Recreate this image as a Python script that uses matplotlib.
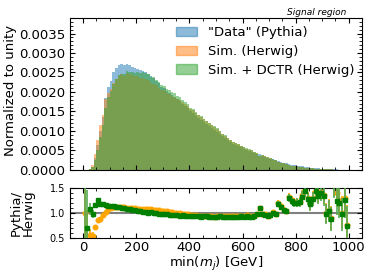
import numpy as np
import matplotlib
matplotlib.use('Agg')
import matplotlib.pyplot as plt
from matplotlib.ticker import AutoMinorLocator, FormatStrFormatter, MultipleLocator
from matplotlib.patches import Patch

# 100 bins of 10 GeV between 0 and 1000
bin_edges = np.linspace(0, 1000, 101)
bin_centers = 0.5 * (bin_edges[1:] + bin_edges[:-1])

# "Data" (Pythia), normalized per GeV
data_hist = [
    0.000002, 0.000003, 0.00002, 0.00007, 0.00030, 0.00065, 0.00100, 0.00135, 0.00185, 0.00212,
    0.00228, 0.00250, 0.00262, 0.00270, 0.00272, 0.00268, 0.00273, 0.00270, 0.00265, 0.00262,
    0.00260, 0.00256, 0.00255, 0.00250, 0.00246, 0.00240, 0.00235, 0.00228, 0.00222, 0.00214,
    0.00210, 0.00203, 0.00198, 0.00192, 0.00188, 0.00182, 0.00177, 0.00170, 0.00164, 0.00158,
    0.00150, 0.00146, 0.00139, 0.00133, 0.00127, 0.00122, 0.00117, 0.00112, 0.00107, 0.00102,
    0.00098, 0.00093, 0.00086, 0.00081, 0.00076, 0.00071, 0.00067, 0.00064, 0.00061, 0.00058,
    0.00055, 0.00052, 0.00049, 0.00047, 0.00044, 0.00042, 0.00040, 0.00037, 0.00034, 0.00031,
    0.00029, 0.00027, 0.00025, 0.00023, 0.00021, 0.00019, 0.00017, 0.00016, 0.00014, 0.00013,
    0.00011, 0.00010, 0.00009, 0.00008, 0.00007, 0.00006, 0.00005, 0.000045, 0.00004, 0.000034,
    0.00003, 0.000025, 0.00002, 0.000017, 0.000014, 0.000012, 0.00001, 0.000008, 0.000006, 0.000005,
]

# Pythia / Herwig
ratio_sim = [
    1.00, 0.30, 0.56, 0.53, 0.72, 0.86, 0.87, 0.96, 1.02, 1.08,
    1.10, 1.12, 1.12, 1.12, 1.11, 1.11, 1.10, 1.10, 1.09, 1.09,
    1.08, 1.08, 1.08, 1.07, 1.07, 1.08, 1.06, 1.05, 1.05, 1.04,
    1.03, 1.03, 1.02, 1.01, 1.00, 1.00, 0.99, 0.98, 0.97, 0.97,
    0.96, 0.95, 0.95, 0.94, 0.94, 0.93, 0.94, 0.93, 0.93, 0.92,
    0.93, 0.94, 0.93, 0.93, 0.94, 0.93, 0.94, 0.94, 0.93, 0.94,
    0.94, 0.95, 0.94, 0.94, 0.94, 0.97, 1.10, 0.98, 0.97, 0.94,
    0.96, 1.01, 0.98, 1.19, 1.13, 1.06, 1.04, 1.32, 1.26, 1.22,
    1.21, 1.22, 1.35, 1.47, 1.30, 1.19, 1.29, 1.46, 1.36, 1.42,
    1.36, 1.00, 1.06, 0.89, 1.60, 1.39, 1.25, 1.00, 1.30, 0.76,
]

# Pythia / (Herwig + DCTR)
ratio_dctr = [
    0.30, 0.70, 1.08, 0.98, 1.15, 1.25, 1.17, 1.18, 1.16, 1.14,
    1.13, 1.13, 1.12, 1.11, 1.10, 1.09, 1.08, 1.07, 1.06, 1.05,
    1.04, 1.03, 1.02, 1.01, 1.00, 1.01, 0.99, 0.99, 0.98, 0.98,
    0.97, 0.98, 0.96, 0.96, 0.95, 0.96, 0.94, 0.95, 0.94, 0.93,
    0.94, 0.93, 0.93, 0.94, 0.92, 0.93, 0.93, 0.92, 0.92, 0.91,
    0.92, 0.93, 0.92, 0.91, 0.92, 0.91, 0.92, 0.92, 0.91, 0.93,
    0.92, 0.93, 0.92, 0.92, 0.93, 0.97, 1.10, 0.97, 0.96, 0.93,
    0.95, 1.00, 0.97, 1.17, 1.12, 1.05, 1.03, 1.30, 1.23, 1.20,
    1.20, 1.21, 1.32, 1.43, 1.28, 1.17, 1.27, 1.43, 1.33, 1.40,
    1.33, 0.97, 1.03, 0.87, 1.55, 1.23, 1.20, 0.97, 1.25, 0.73,
]

# relative statistical uncertainty of the ratio
ratio_err = [
    1.50, 0.75, 0.12, 0.08, 0.04, 0.03, 0.02, 0.02, 0.015, 0.015,
    0.01, 0.01, 0.01, 0.01, 0.01, 0.01, 0.01, 0.01, 0.01, 0.01,
    0.01, 0.01, 0.01, 0.01, 0.01, 0.01, 0.01, 0.01, 0.01, 0.01,
    0.01, 0.01, 0.01, 0.01, 0.01, 0.01, 0.01, 0.012, 0.012, 0.012,
    0.012, 0.012, 0.013, 0.013, 0.013, 0.014, 0.014, 0.015, 0.015, 0.016,
    0.016, 0.017, 0.018, 0.018, 0.019, 0.02, 0.02, 0.021, 0.022, 0.023,
    0.024, 0.025, 0.026, 0.027, 0.028, 0.03, 0.04, 0.033, 0.035, 0.037,
    0.04, 0.042, 0.045, 0.06, 0.05, 0.055, 0.06, 0.08, 0.07, 0.08,
    0.09, 0.09, 0.11, 0.12, 0.12, 0.13, 0.14, 0.15, 0.16, 0.17,
    0.19, 0.20, 0.22, 0.24, 0.26, 0.28, 0.30, 0.33, 0.36, 0.40,
]

data_hist = np.array(data_hist)
sim_hist = data_hist / np.array(ratio_sim)
dctr_hist = data_hist / np.array(ratio_dctr)

fig = plt.figure(figsize=(3.74, 2.80), dpi=100)
ax = fig.add_axes([0.187, 0.393, 0.781, 0.543])
rax = fig.add_axes([0.187, 0.150, 0.781, 0.179], sharex=ax)

ax.hist(bin_centers, bins=bin_edges, weights=data_hist, color='C0', alpha=0.5)
ax.hist(bin_centers, bins=bin_edges, weights=sim_hist, color='C1', alpha=0.5)
ax.hist(bin_centers, bins=bin_edges, weights=dctr_hist, color='C2', alpha=0.5)

handles = [Patch(color='C0', alpha=0.5), Patch(color='C1', alpha=0.5), Patch(color='C2', alpha=0.5)]
labels = ['"Data" (Pythia)', 'Sim. (Herwig)', 'Sim. + DCTR (Herwig)']
ax.legend(handles, labels, frameon=False, fontsize=9.5, loc='upper right',
          handlelength=1.6, handletextpad=0.8, labelspacing=0.45,
          borderaxespad=0.2, bbox_to_anchor=(1.0, 1.0))

ax.set_xlim(-50, 1050)
ax.set_ylim(0, 0.0039)
ax.set_ylabel('Normalized to unity', fontsize=9.5)
ax.yaxis.set_label_coords(-0.18, 0.52)
ax.yaxis.set_major_locator(MultipleLocator(0.0005))
ax.yaxis.set_major_formatter(FormatStrFormatter('%.4f'))
ax.yaxis.set_minor_locator(AutoMinorLocator(5))
ax.xaxis.set_major_locator(MultipleLocator(200))
ax.xaxis.set_minor_locator(AutoMinorLocator(4))
ax.tick_params(axis='x', labelbottom=False)
ax.tick_params(axis='y', labelsize=9.5)

rax.axhline(1.0, color='gray', lw=1.5, zorder=1)
rax.errorbar(bin_centers, ratio_sim, yerr=ratio_err, fmt='o', color='orange',
             markersize=3.3, elinewidth=1.2, zorder=2)
rax.errorbar(bin_centers, ratio_dctr, yerr=ratio_err, fmt='s', color='green',
             ecolor='#55aa55', markersize=3.3, elinewidth=1.2, zorder=3)
rax.set_ylim(0.5, 1.5)
rax.yaxis.set_major_locator(MultipleLocator(0.5))
rax.yaxis.set_minor_locator(AutoMinorLocator(5))
rax.tick_params(axis='y', labelsize=7)
rax.tick_params(axis='x', labelsize=9.5, pad=2)
rax.set_ylabel('Pythia/\nHerwig', fontsize=9.5, linespacing=0.95)
rax.yaxis.set_label_coords(-0.12, 0.5)
rax.set_xlabel('min($m_j$) [GeV]', fontsize=9.5, labelpad=1)

for a in (ax, rax):
    a.tick_params(which='both', direction='in', top=True, right=True)
    a.tick_params(which='major', length=3.5)
    a.tick_params(which='minor', length=2)

fig.text(0.925, 0.957, 'Signal region', fontsize=6.5, style='italic', ha='right', va='center')

fig.savefig('out.png', dpi=100)
plt.close(fig)
